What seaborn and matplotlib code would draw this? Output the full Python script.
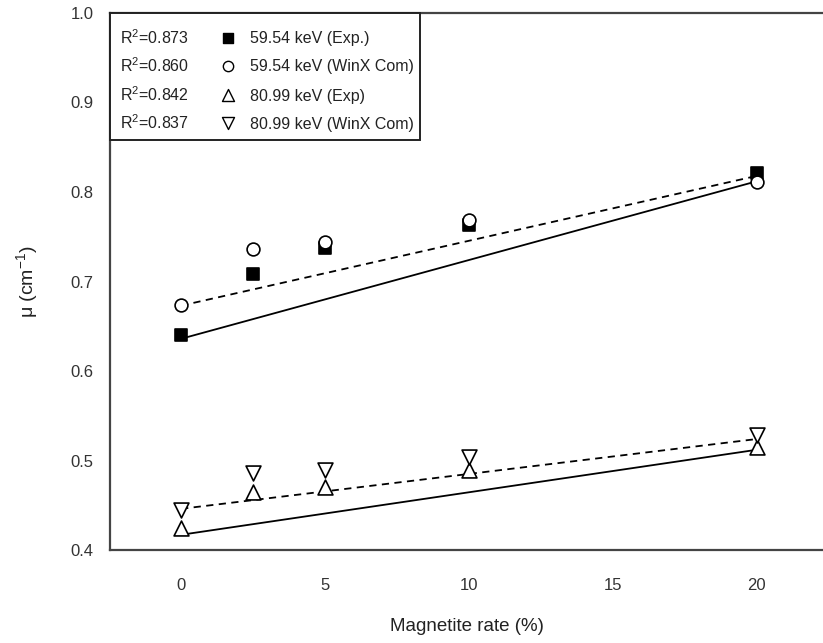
import matplotlib
matplotlib.use("Agg")
import matplotlib.pyplot as plt
import seaborn as sns
import pandas as pd
from matplotlib.patches import Rectangle

# ---- data ----
magnetite = [0, 2.5, 5, 10, 20]
mu_5954_exp = [0.640, 0.708, 0.737, 0.763, 0.821]
mu_5954_winx = [0.674, 0.736, 0.744, 0.769, 0.811]
mu_8099_exp = [0.425, 0.465, 0.470, 0.489, 0.515]
mu_8099_winx = [0.445, 0.486, 0.489, 0.504, 0.528]

series_names = ["59.54 keV (Exp.)", "59.54 keV (WinX Com)",
                "80.99 keV (Exp)", "80.99 keV (WinX Com)"]
r2_labels = ["R$^2$=0.873", "R$^2$=0.860", "R$^2$=0.842", "R$^2$=0.837"]

# trend-line end points (x = 0 and x = 20) as drawn in the chart
fit_x = [0, 20]
fit_5954_exp = [0.636, 0.812]
fit_5954_winx = [0.673, 0.818]
fit_8099_exp = [0.417, 0.512]
fit_8099_winx = [0.446, 0.524]

x_ticks = [0, 5, 10, 15, 20]
y_ticks = [0.4, 0.5, 0.6, 0.7, 0.8, 0.9, 1.0]

# ---- style ----
sns.set_style("white")
plt.rcParams["font.family"] = ["Liberation Sans", "DejaVu Sans"]
plt.rcParams["mathtext.default"] = "regular"

fig = plt.figure(figsize=(8.23, 6.43), dpi=100)
ax = fig.add_axes([110 / 823, 1 - 550 / 643, 1 - 110 / 823, (550 - 13) / 643])

styles = [
    dict(marker="s", facecolor="black", edgecolor="black", s=80),
    dict(marker="o", facecolor="white", edgecolor="black", s=85),
    dict(marker="^", facecolor="white", edgecolor="black", s=115),
    dict(marker="v", facecolor="white", edgecolor="black", s=115),
]
values = [mu_5954_exp, mu_5954_winx, mu_8099_exp, mu_8099_winx]
fits = [fit_5954_exp, fit_5954_winx, fit_8099_exp, fit_8099_winx]
line_styles = ["-", (0, (4, 3)), "-", (0, (4, 3))]

for name, vals, fit, ls, st in zip(series_names, values, fits, line_styles, styles):
    sns.lineplot(x=fit_x, y=fit, ax=ax, color="black", linewidth=1.3,
                 linestyle=ls, zorder=2)
    df = pd.DataFrame({"x": magnetite, "y": vals})
    sns.scatterplot(data=df, x="x", y="y", ax=ax, marker=st["marker"],
                    s=st["s"], color=st["facecolor"], edgecolor=st["edgecolor"],
                    linewidth=1.2, zorder=3)

ax.set_xlim(-2.47, 22.3)
ax.set_ylim(0.4, 1.0)
ax.set_xticks(x_ticks)
ax.set_yticks(y_ticks)
ax.set_yticklabels([f"{v:.1f}" for v in y_ticks])
ax.tick_params(axis="both", length=0, labelsize=12, colors="#333333")
ax.tick_params(axis="x", pad=20)
ax.tick_params(axis="y", pad=12)

for side in ["left", "bottom", "top"]:
    ax.spines[side].set_color("#444444")
    ax.spines[side].set_linewidth(1.6)
ax.spines["right"].set_visible(False)

ax.set_xlabel("Magnetite rate (%)", fontsize=13.5, labelpad=18, color="#222222")
ax.set_ylabel("μ (cm$^{-1}$)", fontsize=14, labelpad=22, color="#222222")

# ---- legend box (drawn manually: R² text, marker, label) ----
def ax_xy(px, py):
    return ((px - 110) / (823 - 110), (550 - py) / (550 - 13))

x0, y0 = ax_xy(110, 140)
x1, y1 = ax_xy(420, 13)
ax.add_patch(Rectangle((x0, y0), x1 - x0, y1 - y0, transform=ax.transAxes,
                       facecolor="white", edgecolor="#222222", linewidth=1.4,
                       zorder=5, clip_on=False))
row_y = [38, 66, 95, 123]
for r2, name, st, py in zip(r2_labels, series_names, styles, row_y):
    tx, ty = ax_xy(120, py)
    ax.text(tx, ty, r2, transform=ax.transAxes, fontsize=11.5, va="center",
            ha="left", zorder=6, color="#222222")
    mx, my = ax_xy(228, py)
    ax.scatter([mx], [my], transform=ax.transAxes, marker=st["marker"],
               s=st["s"] * 0.65, facecolor=st["facecolor"], edgecolor="black",
               linewidth=1.0, zorder=6, clip_on=False)
    lx, ly = ax_xy(250, py + 1)
    ax.text(lx, ly, name, transform=ax.transAxes, fontsize=11.5, va="center",
            ha="left", zorder=6, color="#222222")

fig.savefig("out.png", dpi=100)
